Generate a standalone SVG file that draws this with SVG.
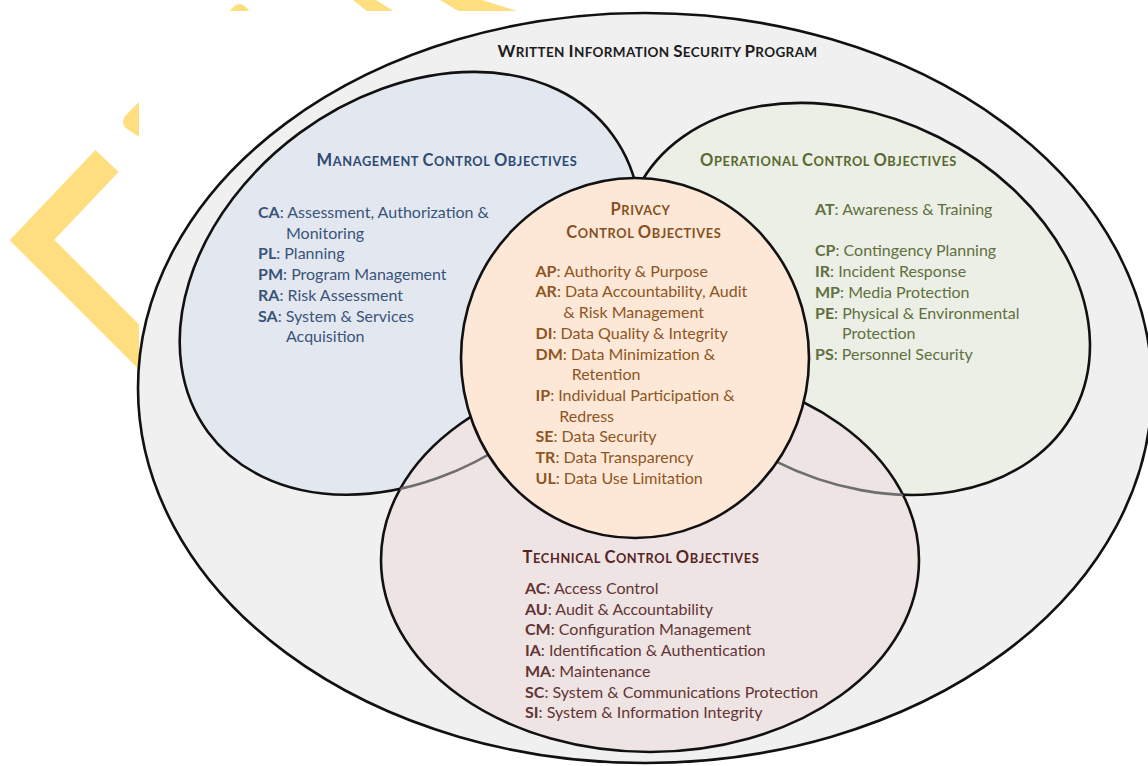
<svg xmlns="http://www.w3.org/2000/svg" width="1148" height="766" viewBox="0 0 1148 766">
  <defs>
    <style>
      .wm { fill: #ffde80; }
      .ring { stroke: #111; stroke-width: 2.6; }
      .thru { fill: none; stroke: #6e6e6e; stroke-width: 2.6; }
      text { font-family: Lato, "Open Sans", "Liberation Sans", sans-serif; font-size: 16px; }
      .cap { font-weight: bold; letter-spacing: 0.6px; }
      .big { font-size: 16.5px; }
      .sm { font-size: 12.8px; }
      .k { font-weight: bold; }
      .title { fill: #1c1c1c; font-weight: bold; letter-spacing: 0.35px; }
      .tbig { font-size: 17px; }
      .tsm { font-size: 13.5px; }
      .mg { fill: #3a5479; }
      .mgh { fill: #2d4a73; }
      .op { fill: #5f7040; }
      .oph { fill: #58692f; }
      .pr { fill: #8e5523; }
      .prh { fill: #87501f; }
      .te { fill: #623434; }
      .teh { fill: #562424; }
    </style>
    <ellipse id="mgShape" cx="410.2" cy="283.3" rx="251" ry="186.6" transform="rotate(-36.3 410.2 283.3)"/>
    <ellipse id="opShape" cx="856.5" cy="298.9" rx="245" ry="181.4" transform="rotate(26.8 856.5 298.9)"/>
    <clipPath id="techClip">
      <ellipse cx="650" cy="560" rx="269" ry="192"/>
    </clipPath>
  </defs>

  <!-- logo fragments behind the white card -->
  <g id="logo">
    <path d="M107,161 L32,240 L160,368" fill="none" stroke="#ffde80" stroke-width="32" stroke-linejoin="miter"/>
    <path class="wm" d="M141,100 L127,114 Q119,122 127,129 L141,138 Z"/>
    <path class="wm" d="M229,12 Q235,3 241,4 Q246,6 250,12 Z"/>
    <path class="wm" d="M353,0 L376,0 L395,12 L368,12 Z"/>
    <path class="wm" d="M440,0 L482,0 L520,12 L460,12 Z"/>
  </g>
  <rect x="139" y="11" width="1009" height="755" fill="#ffffff"/>

  <!-- program boundary -->
  <g id="program">
    <ellipse class="ring" cx="645" cy="388" rx="507" ry="375" fill="#f0f0f0"/>
    <text class="title" x="657.5" y="56.5" text-anchor="middle"><tspan class="tbig">W</tspan><tspan class="tsm">RITTEN </tspan><tspan class="tbig">I</tspan><tspan class="tsm">NFORMATION </tspan><tspan class="tbig">S</tspan><tspan class="tsm">ECURITY </tspan><tspan class="tbig">P</tspan><tspan class="tsm">ROGRAM</tspan></text>
  </g>

  <!-- control families -->
  <g id="management">
    <use href="#mgShape" class="ring" fill="#e3e8f0"/>
  </g>
  <g id="operational">
    <use href="#opShape" class="ring" fill="#ebefe6"/>
  </g>
  <g id="technical">
    <ellipse class="ring" cx="650" cy="560" rx="269" ry="192" fill="#efe4e4"/>
  </g>

  <!-- family outlines seen through the technical area -->
  <g id="connectors" clip-path="url(#techClip)">
    <use href="#mgShape" class="thru"/>
    <use href="#opShape" class="thru"/>
  </g>

  <g id="privacy">
    <ellipse class="ring" cx="635" cy="358" rx="174" ry="180" fill="#fde8d7"/>
  </g>

  <!-- labels -->
  <g id="management-text">
    <text class="mgh cap" x="447" y="166" text-anchor="middle"><tspan class="big">M</tspan><tspan class="sm">ANAGEMENT </tspan><tspan class="big">C</tspan><tspan class="sm">ONTROL </tspan><tspan class="big">O</tspan><tspan class="sm">BJECTIVES</tspan></text>
    <text class="mg" x="258" y="218"><tspan class="k">CA</tspan>: Assessment, Authorization &amp;</text>
    <text class="mg" x="286" y="238.7">Monitoring</text>
    <text class="mg" x="258" y="259.4"><tspan class="k">PL</tspan>: Planning</text>
    <text class="mg" x="258" y="280.1"><tspan class="k">PM</tspan>: Program Management</text>
    <text class="mg" x="258" y="300.8"><tspan class="k">RA</tspan>: Risk Assessment</text>
    <text class="mg" x="258" y="321.5"><tspan class="k">SA</tspan>: System &amp; Services</text>
    <text class="mg" x="286" y="342.2">Acquisition</text>
  </g>

  <g id="operational-text">
    <text class="oph cap" x="828.5" y="166" text-anchor="middle"><tspan class="big">O</tspan><tspan class="sm">PERATIONAL </tspan><tspan class="big">C</tspan><tspan class="sm">ONTROL </tspan><tspan class="big">O</tspan><tspan class="sm">BJECTIVES</tspan></text>
    <text class="op" x="815" y="215"><tspan class="k">AT</tspan>: Awareness &amp; Training</text>
    <text class="op" x="815" y="256.4"><tspan class="k">CP</tspan>: Contingency Planning</text>
    <text class="op" x="815" y="277.1"><tspan class="k">IR</tspan>: Incident Response</text>
    <text class="op" x="815" y="297.8"><tspan class="k">MP</tspan>: Media Protection</text>
    <text class="op" x="815" y="318.5"><tspan class="k">PE</tspan>: Physical &amp; Environmental</text>
    <text class="op" x="842" y="339.2">Protection</text>
    <text class="op" x="815" y="359.9"><tspan class="k">PS</tspan>: Personnel Security</text>
  </g>

  <g id="privacy-text">
    <text class="prh cap" x="640.5" y="215" text-anchor="middle"><tspan class="big">P</tspan><tspan class="sm">RIVACY</tspan></text>
    <text class="prh cap" x="643.8" y="238.3" text-anchor="middle"><tspan class="big">C</tspan><tspan class="sm">ONTROL </tspan><tspan class="big">O</tspan><tspan class="sm">BJECTIVES</tspan></text>
    <text class="pr" x="535.5" y="276.7"><tspan class="k">AP</tspan>: Authority &amp; Purpose</text>
    <text class="pr" x="535.5" y="297.4"><tspan class="k">AR</tspan>: Data Accountability, Audit</text>
    <text class="pr" x="563.3" y="318.1">&amp; Risk Management</text>
    <text class="pr" x="535.5" y="338.8"><tspan class="k">DI</tspan>: Data Quality &amp; Integrity</text>
    <text class="pr" x="535.5" y="359.5"><tspan class="k">DM</tspan>: Data Minimization &amp;</text>
    <text class="pr" x="571.7" y="380.2">Retention</text>
    <text class="pr" x="535.5" y="400.9"><tspan class="k">IP</tspan>: Individual Participation &amp;</text>
    <text class="pr" x="559.3" y="421.6">Redress</text>
    <text class="pr" x="535.5" y="442.3"><tspan class="k">SE</tspan>: Data Security</text>
    <text class="pr" x="535.5" y="463"><tspan class="k">TR</tspan>: Data Transparency</text>
    <text class="pr" x="535.5" y="483.7"><tspan class="k">UL</tspan>: Data Use Limitation</text>
  </g>

  <g id="technical-text">
    <text class="teh cap" x="641" y="563.3" text-anchor="middle"><tspan class="big">T</tspan><tspan class="sm">ECHNICAL </tspan><tspan class="big">C</tspan><tspan class="sm">ONTROL </tspan><tspan class="big">O</tspan><tspan class="sm">BJECTIVES</tspan></text>
    <text class="te" x="525" y="594"><tspan class="k">AC</tspan>: Access Control</text>
    <text class="te" x="525" y="614.7"><tspan class="k">AU</tspan>: Audit &amp; Accountability</text>
    <text class="te" x="525" y="635.4"><tspan class="k">CM</tspan>: Configuration Management</text>
    <text class="te" x="525" y="656.1"><tspan class="k">IA</tspan>: Identification &amp; Authentication</text>
    <text class="te" x="525" y="676.8"><tspan class="k">MA</tspan>: Maintenance</text>
    <text class="te" x="525" y="697.5"><tspan class="k">SC</tspan>: System &amp; Communications Protection</text>
    <text class="te" x="525" y="718.2"><tspan class="k">SI</tspan>: System &amp; Information Integrity</text>
  </g>
</svg>
